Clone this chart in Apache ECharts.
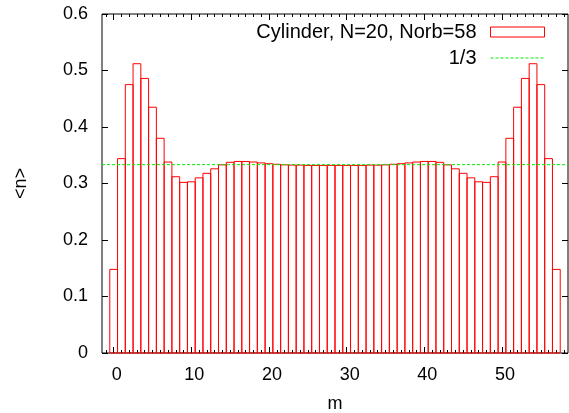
<!DOCTYPE html>
<html>
<head>
<meta charset="utf-8">
<script src="https://cdn.jsdelivr.net/npm/echarts@6/dist/echarts.min.js"></script>
<style>html,body{margin:0;padding:0;background:#fff}#c{width:569px;height:413px}</style>
</head>
<body>
<div id="c"></div>
<script>
// occupation numbers <n> for m = 0..57
const M_VALUES = [0,1,2,3,4,5,6,7,8,9,10,11,12,13,14,15,16,17,18,19,20,21,22,23,24,25,26,27,28,29,30,31,32,33,34,35,36,37,38,39,40,41,42,43,44,45,46,47,48,49,50,51,52,53,54,55,56,57];
const N_VALUES = [0.148,0.344,0.475,0.512,0.486,0.435,0.380,0.338,0.312,0.302,
                  0.303,0.310,0.318,0.326,0.333,0.3375,0.339,0.339,0.338,0.3365,
                  0.335,0.334,0.333,0.3325,0.3325,0.332,0.332,0.332,0.332,0.332,
                  0.332,0.332,0.332,0.3325,0.3325,0.333,0.334,0.335,0.3365,0.338,
                  0.339,0.339,0.3375,0.333,0.326,0.318,0.310,0.303,0.302,0.312,
                  0.338,0.380,0.435,0.486,0.512,0.475,0.344,0.148];
const ONE_THIRD = 1/3;
const X_RANGE = [-1.5, 58.5];
const Y_RANGE = [0, 0.6];
const X_MAJOR_TICKS = [0,10,20,30,40,50];
const X_MINOR_TICKS = [-1,0,1,2,3,4,5,6,7,8,9,10,11,12,13,14,15,16,17,18,19,20,21,22,23,24,25,26,27,28,29,30,31,32,33,34,35,36,37,38,39,40,41,42,43,44,45,46,47,48,49,50,51,52,53,54,55,56,57,58];
const SERIES_NAMES = ['Cylinder, N=20, Norb=58', '1/3'];

const FONT = 'Liberation Sans, Arial, sans-serif';
const GREEN = '#00ee00';
const chart = echarts.init(document.getElementById('c'), null, {renderer: 'canvas'});

const barData = M_VALUES.map((m, i) => [m, N_VALUES[i]]);
const lineData = [[X_RANGE[0], ONE_THIRD], [X_RANGE[1], ONE_THIRD]];

// dashed legend sample (54 x 10 box, dashes in the middle)
let dashPath = 'path://M0,0L0.01,0L0.01,0.01Z M54,10L53.99,10L53.99,9.99Z';
for (let x = 0; x + 3 <= 54; x += 5) dashPath += ' M' + x + ',4.5h3v1h-3Z';

function xAxisBase(extra) {
  return Object.assign({
    type: 'value', min: X_RANGE[0], max: X_RANGE[1],
    axisLine: {show: false, onZero: false}, splitLine: {show: false},
    axisLabel: {show: false}, axisTick: {show: false}
  }, extra);
}

chart.setOption({
  animation: false,
  backgroundColor: '#fff',
  grid: {left: 102, right: 1, top: 14, bottom: 60, containLabel: false, outerBoundsMode: 'none',
    show: true, borderColor: '#000', borderWidth: 1, backgroundColor: 'transparent'},
  legend: {
    orient: 'vertical', right: 24, top: 22, padding: 0, align: 'right',
    itemWidth: 54, itemHeight: 10, itemGap: 6,
    textStyle: {fontFamily: FONT, fontSize: 20, color: '#000', lineHeight: 14, padding: [0, 9, 0, 0]},
    data: [
      {name: SERIES_NAMES[0], icon: 'rect', itemStyle: {color: '#fff', borderColor: '#ff0000', borderWidth: 1}},
      {name: SERIES_NAMES[1], icon: dashPath, itemStyle: {color: GREEN, borderWidth: 0}}
    ]
  },
  xAxis: [
    xAxisBase({position: 'bottom', name: 'm', nameLocation: 'middle', nameGap: 42,
      nameTextStyle: {fontFamily: FONT, fontSize: 18, color: '#000'},
      axisLabel: {show: true, customValues: X_MAJOR_TICKS, fontFamily: FONT, fontSize: 18, color: '#000', margin: 13, padding: [0,0,0,6]},
      axisTick: {show: true, inside: true, length: 6, customValues: X_MAJOR_TICKS, lineStyle: {color: '#000'}}}),
    xAxisBase({position: 'bottom',
      axisTick: {show: true, inside: true, length: 3, customValues: X_MINOR_TICKS, lineStyle: {color: '#000'}}}),
    xAxisBase({position: 'top',
      axisTick: {show: true, inside: true, length: 6, customValues: X_MAJOR_TICKS, lineStyle: {color: '#000'}}}),
    xAxisBase({position: 'top',
      axisTick: {show: true, inside: true, length: 3, customValues: X_MINOR_TICKS, lineStyle: {color: '#000'}}})
  ],
  yAxis: [
    {type: 'value', min: Y_RANGE[0], max: Y_RANGE[1], interval: 0.1, position: 'left',
      name: '<n>', nameLocation: 'middle', nameGap: 72, nameRotate: 90,
      nameTextStyle: {fontFamily: FONT, fontSize: 18, color: '#000'},
      axisLine: {show: false, onZero: false}, splitLine: {show: false},
      axisTick: {show: true, inside: true, length: 6, lineStyle: {color: '#000'}},
      axisLabel: {fontFamily: FONT, fontSize: 18, color: '#000', margin: 14}},
    {type: 'value', min: Y_RANGE[0], max: Y_RANGE[1], interval: 0.1, position: 'right',
      axisLine: {show: false, onZero: false}, splitLine: {show: false},
      axisTick: {show: true, inside: true, length: 6, lineStyle: {color: '#000'}},
      axisLabel: {show: false}}
  ],
  series: [
    {
      name: SERIES_NAMES[0], type: 'custom', xAxisIndex: 0, yAxisIndex: 0,
      itemStyle: {color: '#fff', borderColor: '#ff0000'},
      renderItem: function (params, api) {
        const x = api.value(0), y = api.value(1);
        const p0 = api.coord([x - 0.5, y]);
        const p1 = api.coord([x + 0.5, 0]);
        return {type: 'rect',
          shape: {x: p0[0], y: p0[1], width: p1[0] - p0[0], height: p1[1] - p0[1]},
          style: {fill: 'none', stroke: '#ff0000', lineWidth: 1}};
      },
      data: barData, z: 2
    },
    {
      name: SERIES_NAMES[1], type: 'line', xAxisIndex: 0, yAxisIndex: 0,
      showSymbol: false, symbol: 'none', clip: false,
      lineStyle: {color: GREEN, width: 1, type: [3, 2]},
      itemStyle: {color: GREEN},
      data: lineData, z: 3
    }
  ]
});
</script>
</body>
</html>
